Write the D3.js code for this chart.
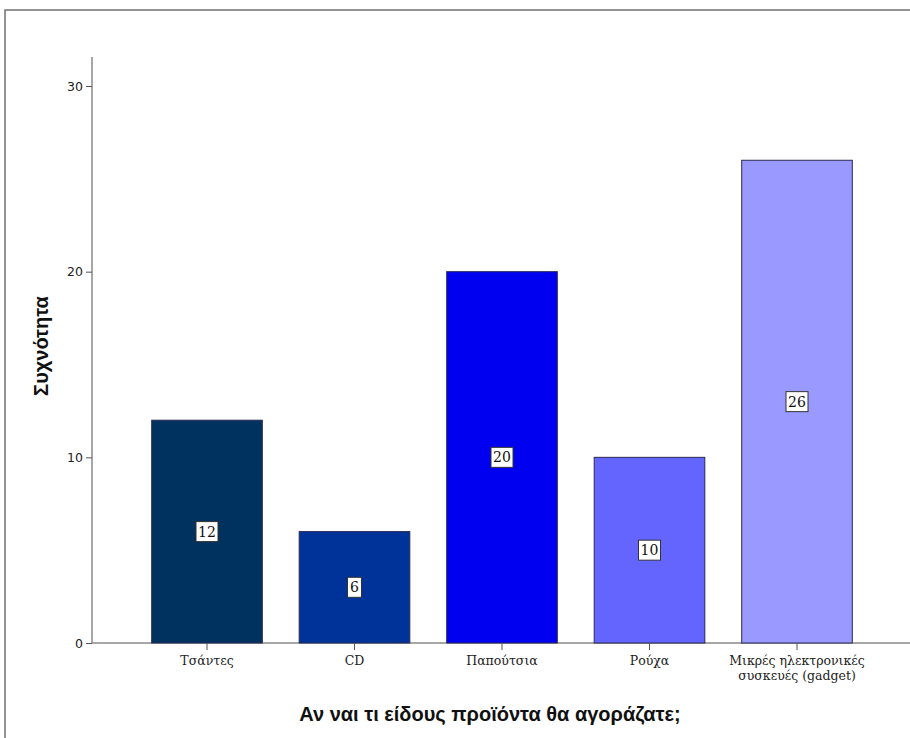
<!DOCTYPE html>
<html><head><meta charset="utf-8">
<script src="https://cdn.jsdelivr.net/npm/d3@7"></script>
<style>body{margin:0;background:#fff}</style>
</head><body>
<script>
const categories = ["Τσάντες", "CD", "Παπούτσια", "Ρούχα", "Μικρές ηλεκτρονικές|συσκευές (gadget)"];
const values = [12, 6, 20, 10, 26];
const colors = ["#00325f", "#003399", "#0000f0", "#6464ff", "#9999ff"];
const yTicks = [0, 10, 20, 30];
const yTitle = "Συχνότητα";
const xTitle = "Αν ναι τι είδους προϊόντα θα αγοράζατε;";

const W = 910, H = 738;
const svg = d3.select("body").append("svg").attr("width", W).attr("height", H);

// frame
svg.append("rect").attr("x", 5).attr("y", 10).attr("width", W).attr("height", H)
  .attr("fill", "none").attr("stroke", "#707070").attr("stroke-width", 1.5);

const y = d3.scaleLinear().domain([0, 30]).range([643, 86]);
const x = d3.scaleBand().domain(categories).range([133.25, 870.75])
  .paddingInner(0.25).paddingOuter(0.125);

// baseline
svg.append("line").attr("x1", 92).attr("x2", W).attr("y1", y(0)).attr("y2", y(0))
  .attr("stroke", "#888").attr("stroke-width", 1.5);

// bars
svg.selectAll("rect.bar").data(values).join("rect").attr("class", "bar")
  .attr("x", (d, i) => x(categories[i]))
  .attr("y", d => y(d))
  .attr("width", x.bandwidth())
  .attr("height", d => y(0) - y(d))
  .attr("fill", (d, i) => colors[i])
  .attr("stroke", "#2a2a55").attr("stroke-width", 1);

// y axis
const yAxis = svg.append("g").attr("transform", "translate(92,0)")
  .call(d3.axisLeft(y).tickValues(yTicks).tickSize(6).tickPadding(3));
yAxis.select(".domain").attr("d", `M0,57V${y(0)}`).attr("stroke", "#888").attr("stroke-width", 1.5);
yAxis.selectAll(".tick line").attr("stroke", "#555");
yAxis.selectAll(".tick text").attr("font-family", "DejaVu Sans, sans-serif").attr("font-size", 12.5).attr("fill", "#222");

// x axis
const xAxis = svg.append("g").attr("transform", `translate(0,${y(0)})`)
  .call(d3.axisBottom(x).tickSize(7).tickFormat(""));
xAxis.select(".domain").remove();
xAxis.selectAll(".tick line").attr("stroke", "#555");
xAxis.selectAll(".tick").each(function(d) {
  const lines = d.split("|");
  const t = d3.select(this).append("text").attr("fill", "#222")
    .attr("font-family", "DejaVu Serif, serif").attr("font-size", 12.5)
    .attr("text-anchor", "middle");
  lines.forEach((l, i) => t.append("tspan").attr("x", 0).attr("y", 22 + i * 15).text(l));
});

// value labels
const lab = svg.selectAll("g.lab").data(values).join("g").attr("class", "lab")
  .attr("transform", (d, i) => `translate(${x(categories[i]) + x.bandwidth() / 2},${y(d / 2)})`);
lab.append("rect").attr("x", d => -(String(d).length * 8 + 6) / 2).attr("y", -10)
  .attr("width", d => String(d).length * 8 + 6).attr("height", 20)
  .attr("fill", "#fff").attr("stroke", "#333").attr("stroke-width", 1);
lab.append("text").attr("text-anchor", "middle").attr("dy", "0.36em")
  .attr("font-family", "DejaVu Serif, serif").attr("font-size", 14).attr("fill", "#111")
  .text(d => d);

// titles
svg.append("text").attr("transform", "translate(48,346) rotate(-90)")
  .attr("text-anchor", "middle").attr("font-family", "Liberation Sans, Arial, sans-serif")
  .attr("font-weight", "bold").attr("font-size", 20).attr("fill", "#111").text(yTitle);
svg.append("text").attr("x", 490).attr("y", 721)
  .attr("text-anchor", "middle").attr("font-family", "Liberation Sans, Arial, sans-serif")
  .attr("font-weight", "bold").attr("font-size", 20).attr("fill", "#111").text(xTitle);
</script>
</body></html>
